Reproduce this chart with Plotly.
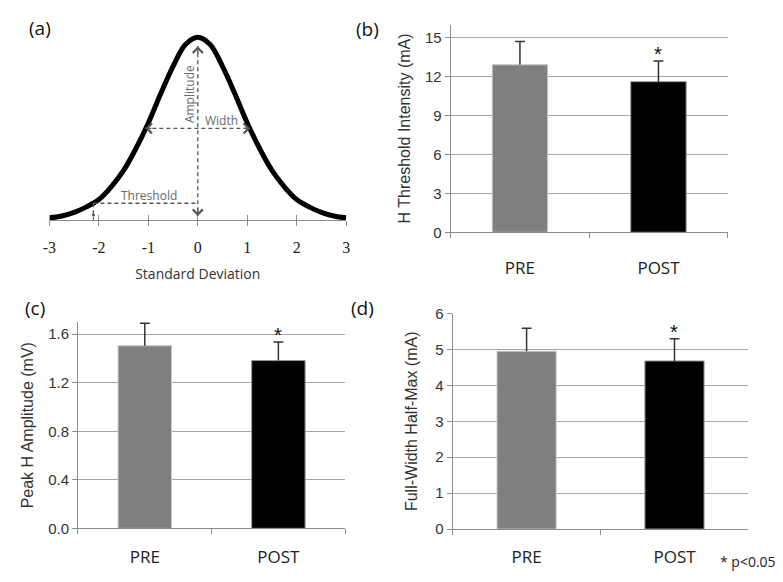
import plotly.graph_objects as go

# ---------------- data ----------------
# panel (a): schematic recruitment curve
CURVE_X = [-3.0, -2.75, -2.5, -2.25, -2.0, -1.75, -1.5, -1.25, -1.0, -0.75, -0.5, -0.25, 0.0,
           0.25, 0.5, 0.75, 1.0, 1.25, 1.5, 1.75, 2.0, 2.25, 2.5, 2.75, 3.0]
CURVE_Y = [0.01, 0.02, 0.04, 0.07, 0.11, 0.18, 0.27, 0.39, 0.53, 0.69, 0.84, 0.96, 1.0,
           0.96, 0.84, 0.69, 0.53, 0.39, 0.27, 0.18, 0.11, 0.07, 0.04, 0.02, 0.01]
X_TICKS = [-3, -2, -1, 0, 1, 2, 3]
X_TICK_LABELS = ["-3", "-2", "-1", "0", "1", "2", "3"]
AMP_TOP, AMP_BOTTOM = 0.95, 0.02
HALF_MAX, HALF_WIDTH = 0.5, 1.06
THRESH_X, THRESH_Y = -2.11, 0.09

# panels (b)-(d)
CATS = ["PRE", "POST"]
THRESH_MEAN = [12.9, 11.6]
THRESH_ERR = [1.8, 1.6]
AMP_MEAN = [1.505, 1.383]
AMP_ERR = [0.185, 0.153]
FWHM_MEAN = [4.95, 4.68]
FWHM_ERR = [0.64, 0.62]
BAR_COLORS = ["#7f7f7f", "#000000"]
EDGE_COLORS = ["#c8c8c8", "#9a9a9a"]

W, H = 783, 582


def px_x(p):
    return p / W


def px_y(p):
    return 1 - p / H


fig = go.Figure()

# ---------------- panel (a) ----------------
fig.add_trace(go.Scatter(x=CURVE_X, y=CURVE_Y, mode="lines", line=dict(color="black", width=5, shape="spline"),
                         xaxis="x", yaxis="y", hoverinfo="skip"))
dash_line = dict(color="#555555", width=1.3, dash="4px,3px")
fig.add_trace(go.Scatter(x=[0, 0], y=[AMP_TOP, AMP_BOTTOM], mode="lines", line=dash_line, xaxis="x", yaxis="y"))
fig.add_trace(go.Scatter(x=[-HALF_WIDTH, HALF_WIDTH], y=[HALF_MAX, HALF_MAX], mode="lines", line=dash_line,
                         xaxis="x", yaxis="y"))
fig.add_trace(go.Scatter(x=[THRESH_X, 0], y=[THRESH_Y, THRESH_Y], mode="lines", line=dash_line, xaxis="x", yaxis="y"))
fig.add_trace(go.Scatter(x=[THRESH_X, THRESH_X], y=[THRESH_Y, 0], mode="lines", line=dash_line, xaxis="x", yaxis="y"))
fig.add_trace(go.Scatter(x=[THRESH_X], y=[0.025], mode="markers", marker=dict(color="#555", size=3),
                         xaxis="x", yaxis="y"))

annotations = []


def arrowhead(x, y, dx, dy):
    annotations.append(dict(x=x, y=y, ax=x + dx, ay=y + dy, xref="x", yref="y", axref="x", ayref="y",
                            text="", showarrow=True, arrowhead=4, arrowsize=1.5, arrowwidth=1.3,
                            arrowcolor="#555555", standoff=0, startstandoff=0))


arrowhead(0, AMP_TOP, 0, -0.05)
arrowhead(0, AMP_BOTTOM, 0, 0.05)
arrowhead(-HALF_WIDTH, HALF_MAX, 0.15, 0)
arrowhead(HALF_WIDTH, HALF_MAX, -0.15, 0)

lab_font = dict(family="Open Sans", size=12, color="#6a6a6a")
annotations += [
    dict(x=-0.17, y=0.69, xref="x", yref="y", text="Amplitude", textangle=-90, showarrow=False, font=lab_font),
    dict(x=0.48, y=0.545, xref="x", yref="y", text="Width", showarrow=False, font=lab_font),
    dict(x=-0.99, y=0.13, xref="x", yref="y", text="Threshold", showarrow=False, font=lab_font),
]

# ---------------- bar panels ----------------
panels = [
    ("x2", "y2", THRESH_MEAN, THRESH_ERR),
    ("x3", "y3", AMP_MEAN, AMP_ERR),
    ("x4", "y4", FWHM_MEAN, FWHM_ERR),
]
for xa, ya, mean, err in panels:
    fig.add_trace(go.Bar(x=CATS, y=mean, width=0.4, xaxis=xa, yaxis=ya,
                         marker=dict(color=BAR_COLORS, line=dict(color=EDGE_COLORS, width=1)),
                         error_y=dict(type="data", array=err, arrayminus=[0, 0], symmetric=False,
                                      color="#333333", thickness=1.5, width=0)))
    # error-bar caps (upper only)
    fig.add_trace(go.Scatter(x=CATS, y=[m + e for m, e in zip(mean, err)], mode="markers", xaxis=xa, yaxis=ya,
                             marker=dict(symbol="line-ew", size=7, line=dict(color="#333333", width=1.5)),
                             hoverinfo="skip"))
    annotations.append(dict(x=CATS[1], y=mean[1] + err[1], xref=xa, yref=ya, text="*", showarrow=False,
                            yanchor="middle", yshift=7, font=dict(family="Liberation Sans", size=20, color="#111")))

# panel labels
plab = dict(family="Open Sans", size=19, color="#111")
for txt, x, y in [("(a)", 33, 20), ("(b)", 366, 21), ("(c)", 28, 308), ("(d)", 361, 308)]:
    annotations.append(dict(x=px_x(x), y=px_y(y), xref="paper", yref="paper", text=txt, showarrow=False,
                            xanchor="center", yanchor="middle", font=plab))
annotations.append(dict(x=px_x(782), y=px_y(569), xref="paper", yref="paper", text="* p<0.05", showarrow=False,
                        xanchor="right", yanchor="middle", font=dict(family="Open Sans", size=14, color="#222")))

grid = "#a6a6a6"
axis_line = "#8c8c8c"
tick_font = dict(family="Liberation Sans", size=15, color="#333")
cat_font = dict(family="Open Sans", size=17, color="#222")
title_font = dict(family="Liberation Sans", size=16, color="#333")


def bar_xaxis(domain, anchor, standoff):
    return dict(domain=domain, anchor=anchor, type="category", showline=True, linecolor=axis_line, linewidth=1,
                ticks="outside", ticklen=5, tickcolor=axis_line, tickson="boundaries", tickfont=cat_font,
                ticklabelstandoff=standoff, showgrid=False, zeroline=False, fixedrange=True)


def bar_yaxis(domain, anchor, rng, dtick, fmt, title, standoff):
    return dict(domain=domain, anchor=anchor, range=rng, dtick=dtick, tick0=0, tickformat=fmt, showline=True,
                linecolor=axis_line, linewidth=1, ticks="outside", ticklen=5, tickcolor=axis_line,
                showgrid=True, gridcolor=grid, gridwidth=1, zeroline=False, tickfont=tick_font,
                title=dict(text=title, font=title_font, standoff=standoff), fixedrange=True)


fig.update_layout(
    width=W, height=H, margin=dict(l=0, r=0, t=0, b=0), showlegend=False,
    paper_bgcolor="white", plot_bgcolor="white", font=dict(family="Liberation Sans", color="#333"),
    xaxis=dict(domain=[px_x(43), px_x(344)], range=[-3, 3], anchor="free", position=px_y(217),
               tickvals=X_TICKS, ticktext=X_TICK_LABELS, showline=True, linecolor=axis_line, linewidth=1,
               ticks="outside", ticklen=5, tickcolor=axis_line, showgrid=False, zeroline=False,
               tickfont=dict(family="Liberation Serif", size=16, color="#222"), ticklabelstandoff=8,
               title=dict(text="Standard Deviation", font=dict(family="Open Sans", size=14, color="#333"),
                          standoff=14), fixedrange=True),
    xaxis5=dict(overlaying="x", domain=[px_x(43), px_x(344)], range=[-3, 3], anchor="free", position=px_y(217),
                tickvals=X_TICKS, showticklabels=False, ticks="inside", ticklen=5, tickcolor=axis_line,
                showline=False, showgrid=False, zeroline=False, fixedrange=True),
    yaxis=dict(domain=[px_y(235.8), px_y(10.2)], range=[-0.1, 1.1], visible=False, anchor="x", fixedrange=True),
    xaxis2=bar_xaxis([px_x(450), px_x(731)], "y2", 20),
    yaxis2=bar_yaxis([px_y(230), px_y(16)], "x2", [0, 16], 3, "d", "H Threshold Intensity (mA)", 10),
    xaxis3=bar_xaxis([px_x(72), px_x(343)], "y3", 13),
    yaxis3=bar_yaxis([px_y(535), px_y(322.5)], "x3", [0, 1.7], 0.4, ".1f", "Peak H Amplitude (mV)", 10),
    xaxis4=bar_xaxis([px_x(452), px_x(752)], "y4", 13),
    yaxis4=bar_yaxis([px_y(535.7), px_y(313.7)], "x4", [0, 6], 1, "d", "Full-Width Half-Max (mA)", 13),
    annotations=annotations,
)
fig.add_trace(go.Scatter(x=[0], y=[0], mode="markers", marker=dict(opacity=0), xaxis="x5", yaxis="y",
                         hoverinfo="skip"))

fig.write_html("out.html", config={"displayModeBar": False},
               post_script="document.body.style.margin='0';document.body.style.overflow='hidden';")
